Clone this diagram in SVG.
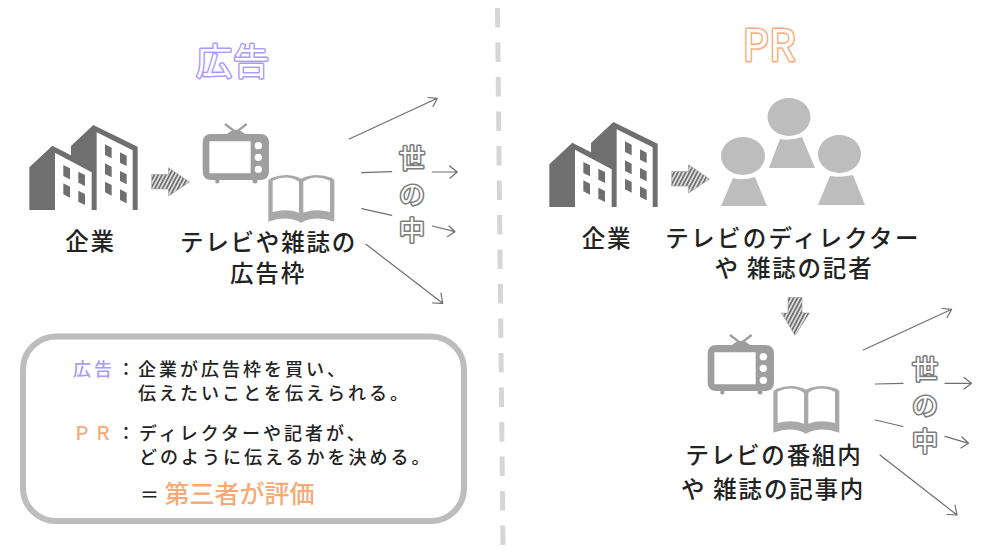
<svg xmlns="http://www.w3.org/2000/svg" width="994" height="553" viewBox="0 0 994 553">
<style>
text{font-family:"Noto Sans CJK JP","Noto Sans",sans-serif}
.lbl{font-size:23.5px;font-weight:500;fill:#222;text-anchor:middle;letter-spacing:1.8px}
.bx{font-size:18px;font-weight:500;fill:#222;letter-spacing:3px}
.vio{fill:#a99bfb}
.org{fill:#f7a976}
.title{fill:#fff;stroke-width:3px;paint-order:stroke;text-anchor:middle;stroke-linejoin:round}
.world{font-size:26px;fill:#fff;stroke:#7d7d7d;stroke-width:3.2px;paint-order:stroke;text-anchor:middle;stroke-linejoin:round}
.th{fill:none;stroke:#6e6e6e;stroke-width:1.2;stroke-linecap:round;stroke-linejoin:round}
.tv{fill:#9e9e9e}
.bk{fill:#a9a9a9}
.pp{fill:#bdbdbd}
</style>
<defs>
<pattern id="hatch" width="3.4" height="3.4" patternUnits="userSpaceOnUse" patternTransform="rotate(28)">
<rect width="3.4" height="3.4" fill="#dedede"/><rect width="1.6" height="3.4" fill="#6a6a6a"/>
</pattern>
<g id="building" transform="scale(.33333)">
<path fill="#6f6f6f" d="M88 412L157 347L213 376V348L280 285L413 350V540H88Z"/>
<path fill="#fff" d="M165 368L275 427V540H165ZM290 307L398 361V540H290Z"/>
<path fill="#6f6f6f" d="M315 343L335 353V385L315 375ZM360 367L380 377V408L360 398ZM315 400L335 410V442L315 432ZM360 423L380 433V463L360 453ZM315 455L335 465V497L315 487ZM360 478L380 488V520L360 510ZM190 405L210 415V448L190 438ZM235 425L255 435V468L235 458ZM190 460L210 470V503L190 493ZM235 482L255 492V525L235 515Z"/>
</g>
<g id="tvbook" transform="scale(.33333)">
<g class="tv">
<path d="M608 338Q608 312 634 312H680L698 300H718L736 312H781Q807 312 807 338V424Q807 450 781 450H772V458Q767 463 758 458V450H658V458Q653 463 646 458V450H634Q608 450 608 424ZM628 334V430H752V334Z" fill-rule="evenodd"/>
<path d="M705 305L675 282M710 305L740 282" stroke="#9e9e9e" stroke-width="7" fill="none"/>
<circle cx="775" cy="347" r="11" fill="#fff"/><circle cx="775" cy="382" r="11" fill="#fff"/><circle cx="775" cy="418" r="11" fill="#fff"/>
</g>
<path class="bk" fill-rule="evenodd" d="M815 443Q865 425 903 446Q945 425 995 443L1003 450V575Q945 555 903 578Q860 555 805 575V450ZM818 452V546Q860 535 897 548V455Q860 432 818 452ZM910 455V548Q945 535 990 546V452Q945 432 910 455Z"/>
</g>
<g id="arrowR">
<path fill="url(#hatch)" stroke="#9a9a9a" stroke-width=".6" d="M151.700 174.500H168.500V167.700L189.500 182L168.500 196V189H151.700Z"/>
</g>
</defs>

<g id="divider"><line x1="497.500" y1="8" x2="503" y2="546" stroke="#d6d6d6" stroke-width="5" stroke-dasharray="19.500 15"/></g>

<g id="title-ad"><text class="title vio" x="233" y="75" font-size="36" stroke="#a99bfb" style="letter-spacing:1px">広告</text></g>
<g id="title-pr"><text class="title org" x="769" y="61" font-size="44" stroke="#f7a976" textLength="53" lengthAdjust="spacingAndGlyphs">PR</text></g>

<g id="ad-company"><use href="#building" transform="translate(0,30)"/><text class="lbl" x="90.500" y="250">企業</text></g>
<use id="ad-arrow" href="#arrowR"/>
<g id="ad-media"><use href="#tvbook" transform="translate(0,30)"/><text class="lbl" x="268.500" y="250.500">テレビや雑誌の</text><text class="lbl" x="268" y="281.500">広告枠</text></g>
<g id="ad-world">
<text class="world" x="412" y="167.500">世</text><text class="world" x="412" y="204">の</text><text class="world" x="412" y="239.500">中</text>
</g>

<g id="pr-company"><use href="#building" transform="translate(520,27)"/><text class="lbl" x="607" y="247">企業</text></g>
<use id="pr-arrow" href="#arrowR" transform="translate(520,-3)"/>
<g id="pr-people">
<ellipse class="pp" cx="743" cy="156" rx="22" ry="19"/><path class="pp" d="M733 178Q743 181 755 177L767 206H721Z"/>
<ellipse class="pp" cx="789" cy="117" rx="21.500" ry="19"/><path class="pp" d="M780 139Q790 141 802 137L815 168H769Z"/>
<ellipse class="pp" cx="839.500" cy="154" rx="21.500" ry="19"/><path class="pp" d="M830 176Q840 178 853 175L865 205H818Z"/>
</g>
<g id="pr-people-label"><text class="lbl" x="793" y="247" style="letter-spacing:2.300px">テレビのディレクター</text><text class="lbl" x="794" y="277">や 雑誌の記者</text></g>
<g id="pr-down"><path fill="url(#hatch)" stroke="#9a9a9a" stroke-width=".6" d="M788 297.500H802V313H809.500L795 335.500L781.500 313H788Z"/></g>
<g id="pr-media"><use href="#tvbook" transform="translate(505,241)"/><text class="lbl" x="774" y="464">テレビの番組内</text><text class="lbl" x="773" y="497.500">や 雑誌の記事内</text></g>
<g id="pr-world">
<text class="world" x="925" y="378.500">世</text><text class="world" x="925" y="415">の</text><text class="world" x="925" y="450.500">中</text>
</g>

<g id="connectors">
<g id="c-ad" class="th">
<path d="M349.300 139L437.300 98.300M428 97.500L437.300 98.300L433 106.500"/>
<path d="M361.700 172.700L391.700 171.700"/>
<path d="M432.300 172H457.300M449.500 166L457.300 172L450 178"/>
<path d="M361.700 208.700L391.700 215.300"/>
<path d="M432.300 226L455 231.700M447.500 236.500L455 231.700L449 226"/>
<path d="M366 244.300L442.700 303.300M432.500 303L442.700 303.300L441 293"/>
</g>
<g id="c-pr" class="th">
<path d="M863.300 350L951.700 309.300M942 308.500L951.700 309.300L947 317.500"/>
<path d="M875.300 384L903 383.300"/>
<path d="M945 383.300H971.500M964 377.500L971.500 383.300L964 389"/>
<path d="M875.300 420L903 426.500"/>
<path d="M945 436.300L968.500 443.300M961 448L968.500 443.300L962 437"/>
<path d="M880 455L957 515M947 514.500L957 515L955 505"/>
</g>
</g>

<g id="summary">
<rect x="23" y="336.500" width="441" height="184.500" rx="33" fill="#fff" stroke="#bdbdbd" stroke-width="6"/>
<text class="bx vio" x="73" y="375.500">広告</text>
<text class="bx" x="117" y="375.500">：</text>
<text class="bx" x="138" y="375.500">企業が広告枠を買い、</text>
<text class="bx" x="138" y="400">伝えたいことを伝えられる。</text>
<text class="bx org" x="73" y="440">ＰＲ</text>
<text class="bx" x="117" y="440">：</text>
<text class="bx" x="139" y="440">ディレクターや記者が、</text>
<text class="bx" x="139" y="464">どのように伝えるかを決める。</text>
<text class="bx" x="140" y="501.500" style="font-size:19px">＝</text>
<text class="org" x="164.500" y="502.500" font-size="25" font-weight="500">第三者が評価</text>
</g>
</svg>
